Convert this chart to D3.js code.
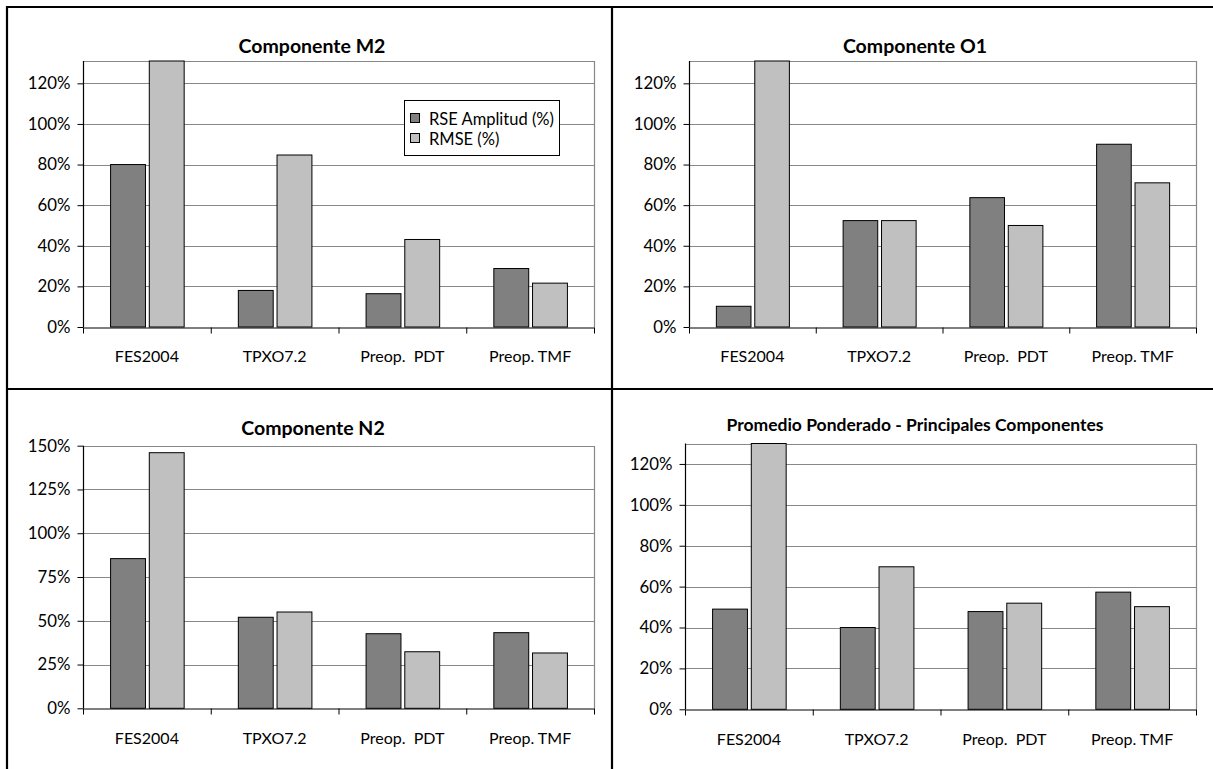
<!DOCTYPE html>
<html>
<head>
<meta charset="utf-8">
<script src="https://cdn.jsdelivr.net/npm/d3@7"></script>
<style>
  html, body { margin: 0; padding: 0; background: #fff; }
  svg text { font-family: Lato, "Open Sans", "Liberation Sans", sans-serif; fill: #000; }
</style>
</head>
<body>
<svg id="chart" width="1213" height="769"></svg>
<script>
// ---------------- data ----------------
const categories = ["FES2004", "TPXO7.2", "Preop.  PDT", "Preop. TMF"];
const seriesNames = ["RSE Amplitud (%)", "RMSE (%)"];
const titles = ["Componente M2", "Componente O1", "Componente N2", "Promedio Ponderado - Principales Componentes"];

const m2Rse  = [0.80, 0.18, 0.164, 0.288];
const m2Rmse = [1.31, 0.847, 0.431, 0.216];
const o1Rse  = [0.102, 0.524, 0.637, 0.90];
const o1Rmse = [1.31, 0.524, 0.50, 0.71];
const n2Rse  = [0.855, 0.52, 0.426, 0.432];
const n2Rmse = [1.46, 0.55, 0.323, 0.316];
const ppRse  = [0.49, 0.40, 0.478, 0.573];
const ppRmse = [1.30, 0.697, 0.519, 0.502];

const ticks120 = [0, 0.2, 0.4, 0.6, 0.8, 1.0, 1.2];
const ticks150 = [0, 0.25, 0.5, 0.75, 1.0, 1.25, 1.5];
const yMaxes = [1.31, 1.31, 1.5, 1.30];

// ---------------- layout ----------------
const colors = ["#808080", "#C0C0C0"];
const panels = [
  { title: titles[0], rse: m2Rse, rmse: m2Rmse, ticks: ticks120, ymax: yMaxes[0],
    x0: 83, x1: 594, yTop: 61, yBot: 327, titleX: 312, titleY: 45, titleSize: 19.5, legend: true },
  { title: titles[1], rse: o1Rse, rmse: o1Rmse, ticks: ticks120, ymax: yMaxes[1],
    x0: 689, x1: 1196, yTop: 61, yBot: 327, titleX: 915, titleY: 45, titleSize: 19.5, legend: false },
  { title: titles[2], rse: n2Rse, rmse: n2Rmse, ticks: ticks150, ymax: yMaxes[2],
    x0: 83, x1: 594, yTop: 445.7, yBot: 708.3, titleX: 313, titleY: 427, titleSize: 19.5, legend: false },
  { title: titles[3], rse: ppRse, rmse: ppRmse, ticks: ticks120, ymax: yMaxes[3],
    x0: 685, x1: 1196, yTop: 443.5, yBot: 709.3, titleX: 915, titleY: 424, titleSize: 17.5, legend: false }
];

const svg = d3.select("#chart");
svg.append("rect").attr("width", 1213).attr("height", 769).attr("fill", "#fff");

const fmt = d3.format(".0%");
const labelSize = 16;

panels.forEach(p => {
  const g = svg.append("g");
  const x = d3.scaleBand().domain(categories).range([p.x0, p.x1]).padding(0);
  const y = d3.scaleLinear().domain([0, p.ymax]).range([p.yBot, p.yTop]);
  const bw = x.bandwidth();
  const barW = bw * 0.273;
  const gap = bw * 0.03;
  const xs = d3.scaleOrdinal().domain(seriesNames)
    .range([(bw - 2 * barW - gap) / 2, (bw - 2 * barW - gap) / 2 + barW + gap]);

  // gridlines
  g.append("g").selectAll("line").data(p.ticks.filter(t => t > 0)).join("line")
    .attr("x1", p.x0).attr("x2", p.x1)
    .attr("y1", d => Math.round(y(d)) + 0.5).attr("y2", d => Math.round(y(d)) + 0.5)
    .attr("stroke", "#888").attr("stroke-width", 1);

  // plot area border (top & right)
  g.append("path")
    .attr("d", `M${p.x0},${Math.round(p.yTop) + 0.5}H${Math.round(p.x1) + 0.5}V${p.yBot}`)
    .attr("fill", "none").attr("stroke", "#888").attr("stroke-width", 1.2);

  // clip for bars exceeding the plot top
  const clipId = "clip" + p.x0 + "_" + Math.round(p.yTop);
  svg.append("clipPath").attr("id", clipId).append("rect")
    .attr("x", p.x0 - 2).attr("y", p.yTop - 1.5).attr("width", p.x1 - p.x0 + 4).attr("height", p.yBot - p.yTop + 3);

  const rows = categories.map((c, i) => ({ cat: c, vals: [
    { s: seriesNames[0], v: p.rse[i] }, { s: seriesNames[1], v: p.rmse[i] } ] }));

  const bars = g.append("g").attr("clip-path", `url(#${clipId})`);
  bars.selectAll("g").data(rows).join("g")
    .attr("transform", d => `translate(${x(d.cat)},0)`)
    .selectAll("rect").data(d => d.vals).join("rect")
    .attr("x", d => xs(d.s) + 0.5)
    .attr("y", d => y(d.v))
    .attr("width", barW)
    .attr("height", d => y(0) - y(d.v))
    .attr("fill", (d, i) => colors[i])
    .attr("stroke", "#000").attr("stroke-width", 1);

  // y axis
  const ya = g.append("g").attr("transform", `translate(${Math.round(p.x0) + 0.5},0)`)
    .call(d3.axisLeft(y).tickValues(p.ticks).tickFormat(fmt).tickSize(6).tickPadding(7).tickSizeOuter(0));
  ya.select(".domain").attr("stroke", "#000").attr("stroke-width", 1.2)
    .attr("d", `M0,${p.yTop}V${p.yBot}`);
  ya.selectAll(".tick line").attr("stroke", "#000");
  ya.selectAll(".tick text").attr("font-size", 16.8).attr("font-family", null);
  ya.attr("font-family", null);

  // x axis: boundary ticks
  const xb = d3.scaleLinear().domain([0, categories.length]).range([p.x0, p.x1]);
  const xa = g.append("g").attr("transform", `translate(0,${Math.round(p.yBot) + 0.5})`)
    .call(d3.axisBottom(xb).tickValues(d3.range(categories.length + 1)).tickFormat("").tickSize(6).tickSizeOuter(0));
  xa.select(".domain").attr("stroke", "#000").attr("stroke-width", 1.2);
  xa.selectAll(".tick line").attr("stroke", "#000");

  // x axis: category labels
  const xl = g.append("g").attr("transform", `translate(0,${p.yBot})`)
    .call(d3.axisBottom(x).tickSize(0).tickPadding(24));
  xl.select(".domain").remove();
  xl.attr("font-family", null);
  xl.selectAll(".tick text").attr("font-size", labelSize).attr("font-family", null)
    .style("white-space", "pre");

  // title
  g.append("text").attr("x", p.titleX).attr("y", p.titleY).attr("text-anchor", "middle")
    .attr("dominant-baseline", "central").attr("font-weight", "bold").attr("font-size", p.titleSize)
    .text(p.title);

  // legend
  if (p.legend) {
    const lg = g.append("g");
    lg.append("rect").attr("x", 404.5).attr("y", 100.5).attr("width", 155).attr("height", 55)
      .attr("fill", "#fff").attr("stroke", "#000").attr("stroke-width", 1);
    seriesNames.forEach((s, i) => {
      lg.append("rect").attr("x", 410.5).attr("y", 113.5 + i * 20).attr("width", 9).attr("height", 9)
        .attr("fill", colors[i]).attr("stroke", "#000");
      lg.append("text").attr("x", 429).attr("y", 118.5 + i * 20).attr("dominant-baseline", "central")
        .attr("font-size", 16.5).text(s);
    });
  }
});

// table borders
const border = svg.append("g").attr("stroke", "#000").attr("stroke-width", 2.2).attr("fill", "none");
border.append("line").attr("x1", 6).attr("x2", 1213).attr("y1", 7).attr("y2", 7);
border.append("line").attr("x1", 7).attr("x2", 7).attr("y1", 6).attr("y2", 769);
border.append("line").attr("x1", 612).attr("x2", 612).attr("y1", 6).attr("y2", 769);
border.append("line").attr("x1", 6).attr("x2", 1213).attr("y1", 389).attr("y2", 389);
</script>
</body>
</html>
